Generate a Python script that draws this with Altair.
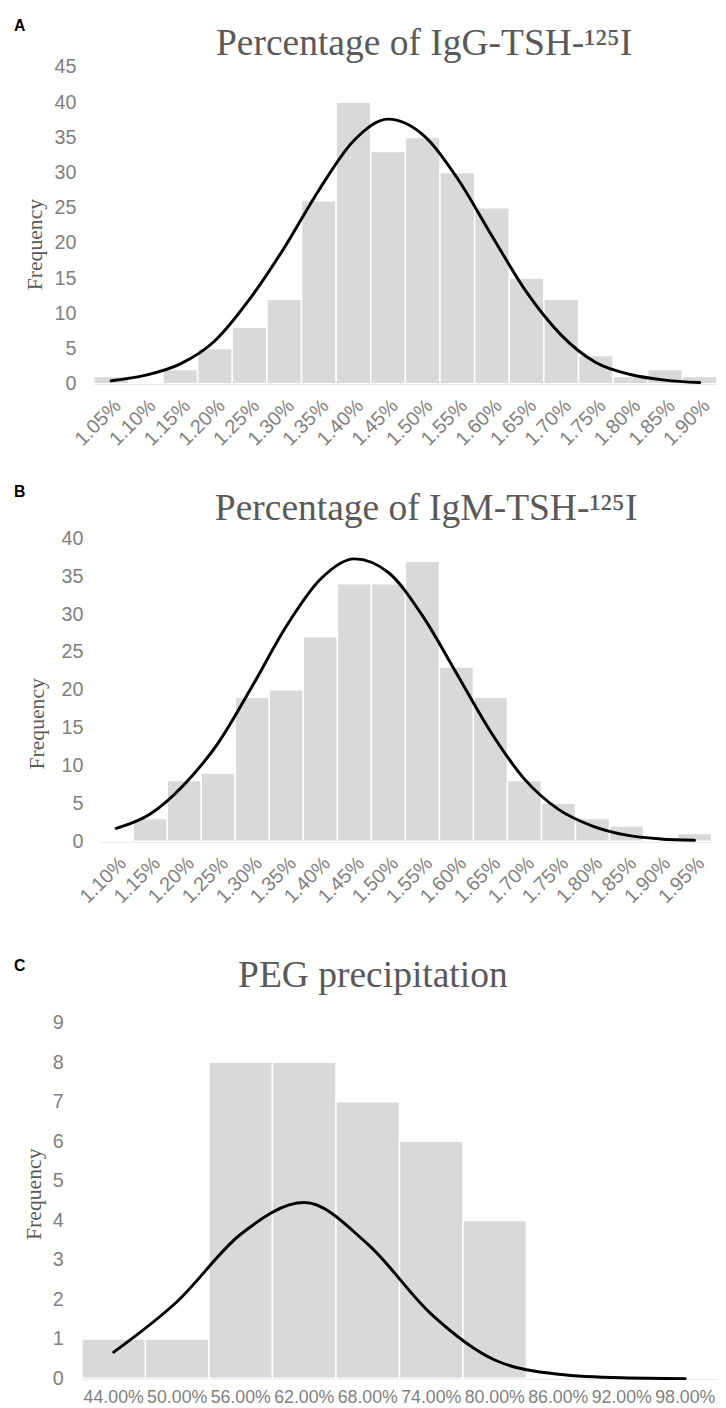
import altair as alt
import pandas as pd

# ---------------- data ----------------
a_labels = ["1.05%", "1.10%", "1.15%", "1.20%", "1.25%", "1.30%", "1.35%", "1.40%", "1.45%",
            "1.50%", "1.55%", "1.60%", "1.65%", "1.70%", "1.75%", "1.80%", "1.85%", "1.90%"]
a_counts = [1, 0, 2, 5, 8, 12, 26, 40, 33, 35, 30, 25, 15, 12, 4, 1, 2, 1]
a_curve = [0.4, 1.2, 2.8, 6.1, 12.0, 19.3, 27.5, 34.5, 37.6, 35.4, 29.2, 21.0, 13.0, 6.9, 3.0, 1.3, 0.5, 0.15]

b_labels = ["1.10%", "1.15%", "1.20%", "1.25%", "1.30%", "1.35%", "1.40%", "1.45%", "1.50%",
            "1.55%", "1.60%", "1.65%", "1.70%", "1.75%", "1.80%", "1.85%", "1.90%", "1.95%"]
b_counts = [0, 3, 8, 9, 19, 20, 27, 34, 34, 37, 23, 19, 8, 5, 3, 2, 0, 1]
b_curve = [1.7, 3.6, 7.5, 13.0, 20.5, 28.4, 34.6, 37.3, 35.5, 29.8, 22.2, 14.5, 8.2, 4.2, 2.0, 0.8, 0.3, 0.12]

c_labels = ["44.00%", "50.00%", "56.00%", "62.00%", "68.00%", "74.00%", "80.00%", "86.00%", "92.00%", "98.00%"]
c_counts = [1, 1, 8, 8, 7, 6, 4, 0, 0, 0]
c_curve = [0.67, 1.95, 3.65, 4.45, 3.4, 1.63, 0.47, 0.11, 0.02, 0.0]

a_ticks = [0, 5, 10, 15, 20, 25, 30, 35, 40, 45]
b_ticks = [0, 5, 10, 15, 20, 25, 30, 35, 40]
c_ticks = [0, 1, 2, 3, 4, 5, 6, 7, 8, 9]

TITLE_A = "Percentage of IgG-TSH-\u00b9\u00b2\u2075I"
TITLE_B = "Percentage of IgM-TSH-\u00b9\u00b2\u2075I"
TITLE_C = "PEG precipitation"

LABEL_GRAY = "#7f7f7f"
TITLE_GRAY = "#595959"
BAR = "#d9d9d9"
W = 644


def panel(labels, counts, curve, ticks, height, rng, angle, ypad, xpad, xfs,
          title, tx, ty, letter, ly, fx, fy):
    df = pd.DataFrame({"bin": labels, "count": counts, "curve": curve})
    xaxis = alt.Axis(title=None, labelAngle=angle, labelPadding=xpad, ticks=False,
                     domainColor=BAR, domainWidth=1.5, labelFont="Liberation Sans",
                     labelFontSize=xfs, labelColor=LABEL_GRAY, labelOverlap=False,
                     grid=False)
    yaxis = alt.Axis(title=None, values=ticks, ticks=False, domain=False, grid=False,
                     labelPadding=ypad, labelFont="Liberation Sans", labelFontSize=20,
                     labelColor=LABEL_GRAY)
    xs = alt.Scale(range=rng, paddingInner=0, paddingOuter=0)
    ys = alt.Scale(domain=[0, ticks[-1]], nice=False)
    bars = alt.Chart(df).mark_bar(color=BAR, stroke="white", strokeWidth=1.5).encode(
        x=alt.X("bin:N", sort=labels, scale=xs, axis=xaxis),
        y=alt.Y("count:Q", scale=ys, axis=yaxis),
    )
    line = alt.Chart(df).mark_line(color="black", strokeWidth=3, interpolate="monotone",
                                   strokeCap="round").encode(
        x=alt.X("bin:N", sort=labels, scale=xs, axis=xaxis),
        y=alt.Y("curve:Q", scale=ys, axis=yaxis),
    )
    t = alt.Chart(pd.DataFrame({"t": [title]})).mark_text(
        font="Liberation Serif", fontSize=38, color=TITLE_GRAY, align="center",
        baseline="alphabetic").encode(x=alt.value(tx), y=alt.value(ty), text="t:N")
    lt = alt.Chart(pd.DataFrame({"t": [letter]})).mark_text(
        font="Liberation Sans", fontSize=16, fontWeight="bold", color="black",
        align="left", baseline="alphabetic").encode(x=alt.value(-69), y=alt.value(ly), text="t:N")
    fq = alt.Chart(pd.DataFrame({"t": ["Frequency"]})).mark_text(
        font="Liberation Serif", fontSize=22, color=TITLE_GRAY, align="center",
        baseline="middle", angle=270).encode(x=alt.value(fx), y=alt.value(fy), text="t:N")
    return alt.layer(bars, line, t, lt, fq).properties(width=W, height=height)


pa = panel(a_labels, a_counts, a_curve, a_ticks, 321, [12, 644], 315, 6, 12, 20,
           TITLE_A, 347, -12, "A", -37, -48, 180)
pb = panel(b_labels, b_counts, b_curve, b_ticks, 307, [17.5, 638.5], 315, -1, 12, 20,
           TITLE_B, 349, -19, "B", -42, -46, 188)
pc = panel(c_labels, c_counts, c_curve, c_ticks, 361, [0, 644], 0, 19, 10, 18,
           TITLE_C, 295, -36, "C", -52, -49, 174)

chart = alt.vconcat(alt.vconcat(pa, pb, spacing=35), pc, spacing=51).properties(
    padding={"left": 6, "top": 0, "right": 0, "bottom": 0}
).configure_view(stroke=None).configure_concat(spacing=40)

chart.save("out.html", embed_options={"renderer": "svg", "actions": False})
